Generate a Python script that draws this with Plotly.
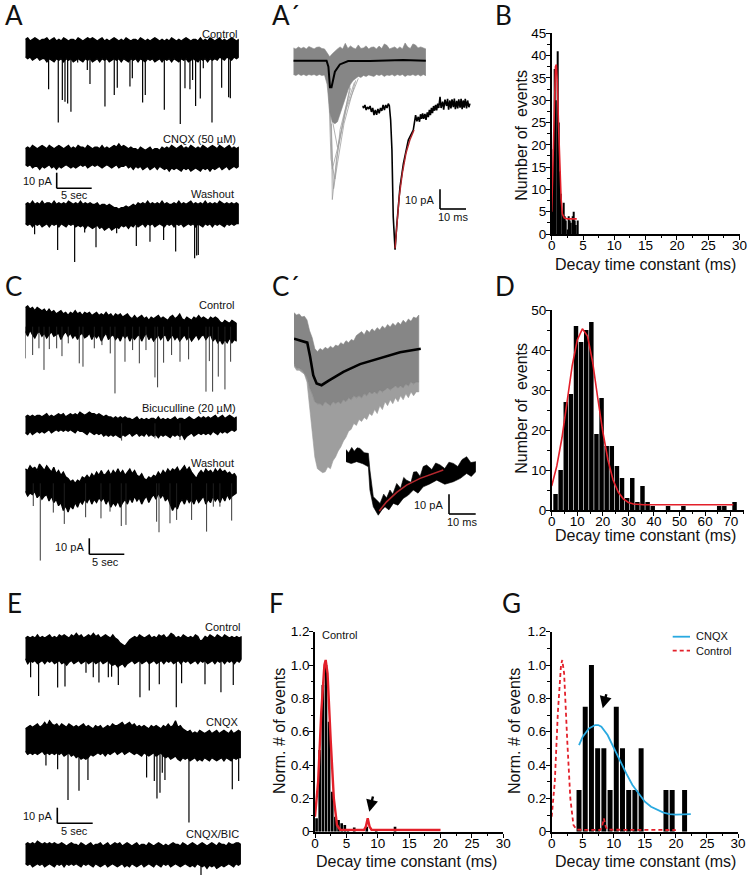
import numpy as np
import plotly.graph_objects as go

W, H = 748, 877
FONT = "Liberation Sans"
RED = "#e3202a"
FIT_RED = "#b3272d"
GRAY = "#868686"
LIGHT = "#9e9e9e"

# ---- histogram data (decay time constant in ms, counts or normalised counts)
b_bins = [0.1, 0.3, 0.5, 0.7, 0.9, 1.1, 1.3, 1.5, 1.7, 1.9, 2.1, 2.3, 2.5, 2.7, 2.9, 3.1, 3.3, 3.5, 3.7, 3.9, 4.1]
b_counts = [10, 19, 37, 30, 41, 25, 14, 9, 5, 7, 4, 3, 1, 4, 3, 2.5, 4, 5, 3, 2, 3]
b_fit_x = [0, 0.2, 0.4, 0.6, 0.75, 0.9, 1.1, 1.3, 1.5, 1.7, 2, 2.5, 4]
b_fit_y = [5, 15, 30, 37.5, 38, 34, 24, 14, 8, 4.5, 3.6, 3.4, 3.4]

d_bins = [1.5, 3.5, 5.5, 7.5, 9.5, 11.5, 13.5, 15.5, 17.5, 19.5, 21.5, 23.5, 25.5, 27.5, 29.5, 31.5, 33.5, 35.5, 37.5, 39.5, 45.5, 51.5, 65.5, 67.5, 71.5]
d_counts = [4, 10, 27, 29, 46, 42, 45, 47, 19, 28, 16, 16, 11, 8, 3, 8, 2, 6, 2, 1, 1, 1, 1, 1, 2]
d_fit_x = [0, 2, 4, 6, 8, 10, 12, 14, 16, 18, 20, 22, 24, 26, 28, 30, 32, 36, 71]
d_fit_y = [6, 11, 18, 27, 36, 42.5, 45.3, 43.5, 37, 28, 19.5, 12.5, 7.5, 4.5, 2.8, 1.9, 1.5, 1.3, 1.3]

f_bins = [0.25, 0.75, 1.25, 1.75, 2.25, 2.75, 3.25, 3.75, 4.25, 4.75, 5.25, 6.25, 8.25, 9.75, 12.75]
f_norm = [0.08, 0.49, 0.88, 1.0, 0.66, 0.24, 0.09, 0.07, 0.05, 0.04, 0.012, 0.025, 0.03, 0.012, 0.03]
control_fit_x = [0, 0.5, 1, 1.25, 1.5, 1.7, 2, 2.5, 3, 3.5, 4, 7.8, 8.1, 8.4, 8.7, 9, 20]
control_fit_y = [0.09, 0.3, 0.72, 0.9, 1.0, 1.03, 0.95, 0.55, 0.2, 0.04, 0.012, 0.01, 0.03, 0.08, 0.03, 0.012, 0.01]

g_bins = [4.4, 5.4, 6.4, 7.4, 8.4, 9.4, 10.4, 11.4, 12.4, 13.4, 14.4, 18.4, 19.4, 21.4]
g_norm = [0.25, 0.75, 1.0, 0.5, 0.5, 0.25, 0.75, 0.5, 0.25, 0.25, 0.5, 0.25, 0.25, 0.25]
cnqx_fit_x = [4.4, 5, 6, 7, 7.5, 8, 9, 10, 11, 12, 13, 14, 15, 16, 17, 18, 19, 20, 22.4]
cnqx_fit_y = [0.52, 0.57, 0.62, 0.64, 0.64, 0.63, 0.58, 0.5, 0.42, 0.35, 0.28, 0.23, 0.18, 0.15, 0.13, 0.115, 0.105, 0.103, 0.105]

norm_ticks = [0, 0.2, 0.4, 0.6, 0.8, 1.0, 1.2]
norm_labels = ["0", "0.2", "0.4", "0.6", "0.8", "1.0", "1.2"]

# ---- current traces: envelope of the noise in pA around baseline, events as time (s) / peak (pA)
a_ctrl_top = [6, 7, 5, 6, 7, 6, 5, 6, 6, 7, 5, 6, 7, 5, 6, 5, 7, 6, 5, 6, 6, 5, 7, 6, 5, 6, 7, 6, 7, 6, 5, 6, 7, 5, 6, 5, 6, 7, 6, 5, 6, 5, 7, 6, 5, 6, 6, 5, 7, 6, 5, 6, 5, 6, 7, 6, 5, 6, 5, 6, 5, 7, 6, 5, 6, 5, 6, 7, 6, 5, 6, 6, 5, 7, 5, 6, 5, 7, 6, 5, 6, 7, 5, 6, 5, 6, 7, 6, 5, 6]
a_ctrl_bot = [-5, -6, -5, -7, -6, -5, -7, -6, -6, -8, -6, -7, -8, -6, -7, -6, -8, -6, -7, -6, -8, -7, -6, -7, -8, -6, -7, -6, -8, -7, -6, -8, -6, -7, -6, -8, -7, -6, -7, -6, -8, -6, -7, -8, -6, -7, -6, -8, -6, -7, -8, -6, -7, -6, -8, -7, -6, -8, -6, -7, -6, -8, -6, -7, -8, -6, -7, -6, -8, -7, -6, -7, -8, -6, -7, -6, -8, -6, -7, -6, -7, -5, -6, -7, -5, -6, -7, -5, -6, -5]
a_ctrl_event_t = [3.33, 4.71, 5.29, 5.67, 6.05, 6.52, 7.48, 8.86, 9.24, 11.38, 12.71, 13.14, 14.95, 15.29, 16.76, 17.14, 19.86, 22.14, 22.81, 23.52, 23.9, 24.33, 25, 25.43, 26.67, 28.05, 29.05, 29.29]
a_ctrl_event_amp = [-25.2, -46, -31.9, -32.9, -34, -39.2, -8.5, -13.1, -21.9, -36, -28.8, -24.2, -23.5, -18.3, -33.5, -28.8, -38, -46.9, -24.6, -25.2, -19.4, -35.6, -31, -12, -46, -24.2, -30.2, -30.8]

a_cnqx_top = [5, 6, 5, 7, 6, 5, 6, 7, 6, 5, 7, 6, 5, 6, 7, 6, 5, 6, 7, 5, 6, 5, 7, 6, 6, 5, 7, 6, 5, 6, 6, 5, 7, 5, 6, 5, 6, 7, 6, 8, 6, 7, 6, 5, 6, 5, 5, 4, 6, 5, 4, 5, 6, 4, 5, 5, 4, 6, 5, 6, 5, 7, 6, 5, 6, 7, 5, 6, 5, 7, 6, 5, 6, 5, 7, 6, 5, 6, 7, 6, 5, 7, 6, 5, 6, 7, 5, 6, 5, 6]
a_cnqx_bot = [-5, -6, -5, -7, -6, -6, -8, -6, -7, -6, -5, -7, -6, -8, -6, -7, -6, -5, -6, -7, -6, -7, -6, -5, -6, -5, -7, -6, -5, -6, -5, -6, -7, -6, -5, -6, -7, -6, -5, -7, -6, -6, -5, -7, -6, -8, -6, -7, -6, -8, -7, -6, -8, -7, -6, -8, -6, -7, -8, -7, -9, -7, -8, -7, -8, -9, -7, -8, -7, -9, -8, -7, -8, -9, -7, -8, -7, -9, -7, -8, -7, -6, -8, -7, -6, -8, -7, -6, -7, -6]

a_wash_top = [6, 7, 6, 8, 6, 7, 6, 8, 6, 7, 7, 6, 8, 6, 7, 6, 7, 6, 8, 7, 6, 7, 6, 8, 6, 7, 6, 7, 6, 6, 7, 5, 6, 6, 5, 6, 5, 4, 4, 3, 4, 4, 5, 4, 5, 6, 5, 7, 6, 7, 6, 8, 6, 7, 6, 7, 6, 8, 6, 7, 6, 6, 7, 6, 8, 6, 7, 6, 7, 8, 6, 7, 6, 7, 6, 8, 6, 7, 6, 7, 6, 8, 7, 6, 7, 6, 7, 6, 7, 6]
a_wash_bot = [-6, -7, -6, -8, -6, -7, -6, -8, -7, -6, -8, -6, -7, -6, -8, -6, -7, -8, -6, -7, -6, -8, -7, -8, -7, -9, -7, -8, -9, -8, -7, -9, -8, -10, -9, -8, -10, -9, -8, -9, -7, -8, -7, -9, -7, -8, -6, -8, -7, -6, -8, -6, -7, -6, -8, -7, -6, -7, -8, -6, -7, -6, -8, -6, -7, -6, -8, -7, -6, -7, -6, -8, -6, -7, -8, -6, -7, -6, -8, -6, -7, -6, -7, -8, -6, -7, -6, -7, -6, -6]
a_wash_event_t = [1.33, 4.62, 7.05, 8.48, 10.1, 13.05, 15.86, 17.81, 19.76, 21.48, 24.19, 24.48, 24.71]
a_wash_event_amp = [-12.7, -22.5, -30, -11.5, -20.8, -12, -20, -17.3, -16.2, -23.5, -27.7, -26, -25.6]

c_ctrl_top = [12, 13, 11, 12, 10, 12, 11, 10, 11, 9, 11, 9, 10, 8, 9, 10, 8, 9, 7, 9, 8, 10, 8, 9, 7, 9, 8, 9, 7, 8, 9, 7, 8, 7, 9, 7, 8, 6, 8, 7, 8, 6, 7, 8, 6, 5, 7, 5, 6, 7, 5, 6, 4, 6, 5, 6, 7, 5, 6, 5, 4, 6, 7, 5, 6, 8, 5, 4, 6, 5, 4, 6, 5, 7, 5, 6, 5, 4, 6, 5, 6, 5, 3, 2, 4, 3, 2, 4, 3, 2]
c_ctrl_bot = [-3, -6, -2, -5, -7, -4, -3, -6, -4, -7, -5, -3, -6, -5, -4, -8, -5, -3, -6, -4, -7, -5, -8, -5, -4, -7, -6, -4, -8, -5, -7, -5, -9, -6, -4, -8, -6, -5, -8, -6, -9, -5, -7, -5, -9, -6, -8, -6, -5, -9, -6, -4, -8, -6, -9, -7, -5, -8, -6, -5, -9, -7, -5, -8, -6, -9, -7, -5, -8, -6, -9, -7, -5, -8, -6, -5, -8, -6, -5, -9, -7, -10, -8, -11, -8, -10, -7, -10, -8, -9]
c_ctrl_event_t = [0, 1.05, 1.95, 2.67, 3.43, 4.48, 5.24, 6.14, 7.71, 8.24, 9.86, 10.95, 12.14, 12.81, 14.24, 15.33, 16.29, 17.24, 18.52, 18.9, 19.76, 20.9, 22.1, 23.33, 25.81, 26.29, 26.76, 27.57, 28.52, 29.33]
c_ctrl_event_amp = [-19.8, -17.7, -13.5, -27, -14, -13.5, -18.4, -10.4, -22.9, -25, -13.5, -11.5, -16.7, -41.7, -21.9, -14.6, -22.9, -14.6, -31.7, -37.9, -22.5, -17.7, -21.9, -20.4, -40.6, -21.5, -40.6, -31.2, -39.2, -21.9]

c_bic_top = [4, 5, 4, 5, 4, 5, 5, 4, 5, 6, 4, 5, 4, 5, 6, 5, 6, 4, 5, 6, 5, 6, 5, 7, 6, 5, 6, 7, 6, 6, 5, 6, 5, 4, 5, 4, 4, 3, 4, 3, 4, 3, 4, 3, 3, 2, 3, 4, 2, 3, 2, 3, 2, 3, 3, 2, 4, 2, 3, 2, 3, 2, 3, 4, 2, 3, 3, 2, 3, 4, 3, 2, 3, 4, 3, 4, 3, 4, 3, 4, 5, 3, 4, 5, 3, 4, 5, 4, 3, 4]
c_bic_bot = [-6, -7, -5, -7, -6, -5, -6, -5, -6, -5, -4, -6, -5, -4, -5, -4, -5, -4, -5, -4, -5, -6, -4, -5, -5, -6, -7, -5, -6, -7, -6, -7, -6, -8, -7, -8, -7, -8, -7, -8, -9, -7, -8, -7, -6, -8, -7, -6, -8, -7, -8, -6, -8, -7, -8, -7, -9, -7, -8, -7, -8, -9, -7, -8, -7, -8, -7, -10, -8, -7, -6, -8, -7, -6, -7, -6, -7, -6, -7, -5, -6, -7, -5, -6, -5, -6, -5, -4, -5, -4]
c_bic_event_t = [13.76, 18.52, 22.1]
c_bic_event_amp = [-10.8, -9.4, -10.4]

c_wash_top = [9, 8, 11, 9, 10, 8, 12, 10, 8, 11, 9, 7, 10, 6, 8, 5, 7, 4, 3, 1, 2, 0, 2, 1, 4, 3, 5, 3, 6, 4, 7, 5, 8, 5, 6, 8, 5, 8, 6, 9, 6, 8, 5, 7, 9, 6, 8, 5, 4, 6, 3, 2, 4, 3, 5, 4, 7, 5, 8, 6, 9, 7, 9, 8, 10, 7, 9, 11, 8, 10, 7, 5, 3, 6, 8, 6, 9, 7, 8, 6, 9, 7, 9, 7, 8, 6, 7, 5, 6, 4]
c_wash_bot = [-5, -8, -6, -7, -5, -9, -7, -10, -8, -7, -11, -8, -12, -10, -14, -12, -17, -14, -18, -14, -16, -12, -15, -11, -13, -10, -12, -9, -13, -10, -12, -9, -11, -9, -13, -10, -15, -12, -14, -11, -15, -12, -10, -13, -9, -12, -8, -11, -9, -13, -10, -8, -12, -9, -7, -10, -6, -9, -7, -11, -9, -13, -17, -14, -16, -12, -10, -13, -9, -12, -10, -13, -9, -12, -10, -8, -13, -10, -12, -8, -11, -9, -12, -8, -11, -7, -10, -8, -7, -6]
c_wash_event_t = [1.14, 2.14, 4, 5.57, 8.62, 10.81, 12.1, 13.71, 14.38, 18.76, 19.1, 20.67, 21.62, 23.76, 25.9, 26.86, 27.8, 29.48]
c_wash_event_amp = [-14.2, -48.3, -18.3, -25.4, -21.2, -21.9, -17.7, -26.7, -26, -24, -30.6, -25, -22.9, -22.9, -30.2, -14.6, -14.6, -23.3]

e_ctrl_top = [7, 8, 7, 8, 7, 9, 7, 8, 7, 8, 9, 7, 8, 7, 9, 8, 9, 8, 7, 9, 8, 10, 8, 9, 7, 8, 9, 8, 10, 8, 9, 7, 8, 9, 8, 7, 9, 7, 6, 4, 3, 2, 4, 6, 7, 8, 7, 9, 8, 7, 8, 9, 7, 8, 7, 9, 8, 9, 7, 8, 10, 9, 7, 8, 7, 9, 8, 7, 8, 7, 9, 8, 5, 6, 8, 7, 9, 8, 7, 9, 8, 7, 9, 8, 7, 8, 7, 8, 7, 8]
e_ctrl_bot = [-6, -9, -7, -8, -7, -9, -8, -7, -9, -7, -8, -7, -9, -8, -7, -9, -8, -10, -8, -7, -9, -8, -7, -9, -8, -7, -9, -8, -7, -9, -8, -7, -9, -8, -7, -9, -10, -9, -11, -10, -9, -11, -9, -8, -7, -9, -8, -7, -9, -8, -7, -9, -8, -7, -9, -8, -7, -9, -7, -8, -7, -9, -8, -7, -9, -7, -8, -7, -9, -8, -7, -9, -7, -8, -7, -9, -8, -7, -9, -7, -8, -7, -9, -7, -8, -7, -9, -7, -8, -6]
e_ctrl_event_t = [0.76, 1.9, 4.62, 5.67, 8.67, 9.71, 10.52, 11.86, 12.33, 13.29, 16.38, 17.71, 19.14, 21.57, 22.33, 25.67, 27.95, 29.71]
e_ctrl_event_amp = [-17.5, -29.2, -23.8, -23.3, -14.6, -17.5, -20.8, -17.5, -17.1, -22.3, -30, -25.8, -21.9, -36.2, -21.2, -21.9, -26.9, -22.3]

e_cnqx_top = [7, 8, 9, 8, 9, 10, 8, 9, 11, 9, 12, 10, 9, 10, 8, 10, 9, 8, 10, 9, 8, 9, 8, 9, 10, 8, 9, 8, 7, 9, 8, 9, 7, 8, 9, 8, 10, 9, 9, 10, 11, 9, 10, 11, 9, 10, 8, 9, 8, 9, 8, 7, 9, 8, 9, 8, 7, 9, 8, 10, 8, 9, 12, 8, 9, 7, 6, 5, 6, 4, 5, 4, 6, 5, 4, 5, 6, 4, 5, 6, 4, 5, 6, 5, 4, 6, 4, 5, 6, 5]
e_cnqx_bot = [-7, -9, -8, -9, -8, -9, -8, -7, -9, -8, -9, -8, -9, -8, -9, -8, -10, -9, -8, -10, -9, -11, -10, -12, -11, -12, -11, -9, -10, -9, -8, -9, -8, -10, -8, -9, -8, -7, -9, -8, -7, -9, -8, -7, -8, -9, -8, -9, -10, -8, -9, -10, -9, -8, -10, -9, -8, -10, -11, -10, -12, -11, -10, -12, -13, -11, -12, -11, -13, -12, -11, -13, -12, -13, -11, -12, -13, -11, -12, -13, -12, -11, -13, -11, -12, -13, -11, -12, -11, -11]
e_cnqx_event_t = [2.95, 4.62, 6.1, 7.67, 8.95, 17.33, 18.43, 18.81, 19.24, 19.57, 19.95, 23.38, 29.57, 30.48]
e_cnqx_event_amp = [-16, -18.3, -37.5, -31.7, -25, -23.5, -25.6, -36.5, -33, -20.4, -25, -51.5, -30.8, -25.6]

e_bic_top = [6, 7, 6, 7, 6, 8, 7, 6, 7, 6, 7, 6, 7, 6, 6, 7, 6, 5, 6, 7, 6, 6, 5, 7, 6, 5, 6, 7, 5, 6, 6, 7, 5, 6, 7, 5, 6, 7, 6, 7, 5, 6, 7, 6, 5, 6, 7, 5, 6, 6, 5, 7, 6, 5, 6, 7, 6, 5, 6, 5, 6, 7, 6, 6, 5, 7, 6, 5, 6, 7, 6, 5, 6, 7, 6, 5, 6, 7, 6, 5, 7, 6, 6, 5, 7, 6, 6, 7, 7, 6]
e_bic_bot = [-6, -7, -6, -8, -7, -6, -7, -6, -8, -7, -6, -7, -8, -6, -7, -6, -8, -6, -7, -6, -7, -6, -7, -8, -6, -7, -6, -7, -8, -6, -7, -8, -7, -6, -8, -7, -6, -7, -8, -7, -6, -8, -7, -8, -6, -7, -8, -7, -6, -8, -7, -6, -7, -8, -6, -7, -8, -6, -7, -6, -8, -7, -6, -7, -8, -7, -6, -7, -8, -7, -8, -6, -7, -8, -7, -9, -7, -8, -7, -9, -8, -7, -8, -7, -6, -7, -8, -6, -7, -6]
e_bic_event_t = [25.1]
e_bic_event_amp = [-13.1]

# ---- averaged events, time in ms and current in pA
a_gray_top = [6.5, 6, 7, 6.2, 6.8, 6, 7.2, 6.5, 6, 6.8, 7, 6.2, 6, 4, 2, 3.5, 5, 6, 7, 6, 8.8, 6.2, 7.5, 6.5, 6, 8, 6.2, 6.5, 7.5, 6, 6.8, 7, 6, 7.4, 6.2, 8.5, 7.8, 6, 6.5, 7, 6, 7, 6, 9, 7, 6.2, 8.5, 8, 6.5, 7, 6.5, 6]
a_gray_bot = [-7, -7.5, -6.8, -7.5, -7, -7.6, -7, -7.4, -7, -7.6, -7, -7.5, -7.2, -12, -26, -31, -32, -31, -27, -23, -19, -15, -12, -10, -9, -8, -8.5, -7.5, -8, -7.2, -7.6, -8, -7, -7.5, -7, -8, -7.2, -7.5, -7, -7.8, -7, -7.5, -7, -8, -7.2, -7.5, -7, -7.6, -7, -7.8, -7, -7.6]
a_sweep1_t = [14.7, 15, 16.7, 21.8]
a_sweep1_amp = [-32, -70.5, -48.8, -13]
a_sweep2_t = [13.5, 14.5, 16, 18, 22]
a_sweep2_amp = [-10, -50, -60, -35, -14]
a_sweep3_t = [14, 15, 17.5, 20, 23.5]
a_sweep3_amp = [-20, -55, -42, -25, -11]
a_sweep4_t = [14, 15.5, 17, 19.5, 24]
a_sweep4_amp = [-15, -65, -52, -32, -10]
a_sweep5_t = [15, 17, 20.5, 25]
a_sweep5_amp = [-30, -44, -24, -9]
a_mean_t = [0, 12.8, 13.5, 14.1, 14.7, 16, 17.9, 21.1, 29.5, 42.3, 51]
a_mean_amp = [0, 0, -3, -13.5, -13.5, -5.6, -1.9, -0.2, -0.2, 0.3, 0]
a_single_t = [0, 0.5, 1, 1.5, 2, 2.5, 3, 3.5, 4, 4.5, 5, 5.5, 6, 6.5, 7, 7.5, 8, 8.5, 9, 9.5, 10, 10.4, 10.9, 11.4, 11.9, 12.6, 13.2, 14.5, 15.8, 17.7, 19.6, 20, 20.5, 21, 21.5, 22, 22.4, 22.8, 23.2, 23.6, 24.1, 24.5, 25, 25.4, 25.8, 26.2, 26.6, 27, 27.4, 27.8, 28.2, 28.6, 29, 29.4, 29.9, 30.3, 30.9, 31.3, 31.8, 32.4, 32.8, 33.2, 33.7, 34.1, 34.5, 35, 35.4, 35.8, 36.3, 36.7, 37.1, 37.6, 38, 38.4, 38.8, 39.2, 39.6, 40.1, 40.5, 41, 41.4]
a_single_amp = [0, -1, 0.5, -2, -0.5, -1.5, 0, -3, -1, -4.6, -2, -4.5, -1.5, -3.7, -1, -2.5, 0.5, -2, 0.5, -1, 1.2, 0.2, -7.1, -22.4, -56.3, -72.9, -61.4, -41, -29.2, -17.3, -12.2, -8, -4.6, -7.8, -5.5, -8, -4.2, -6.5, -3.8, -6.5, -4, -7, -3.2, -5.6, -2, -4.6, -1, -3.6, 0, -2.4, 0.5, -2.2, 1.2, -1, 4.7, -1, 2.2, -1.8, 3.2, 0, 3.6, -1.8, 2.8, -1.2, 3.4, -0.6, 3.8, -1.6, 2.6, -1.2, 3.4, -0.8, 3.6, -1.6, 2.8, -0.8, 3.6, -1.2, 2.8, -0.6, 1.2]
a_single_fit_t = [12.6, 13.2, 14.2, 15.4, 16.8, 18.3, 19.9]
a_single_fit_amp = [-72.3, -61.4, -46.1, -34.2, -24, -17.3, -12.2]

c_gray_top = [13.2, 12, 12.6, 11, 11.4, 9.5, 4, 0.5, -5, -6.6, -5, -5.8, -4.4, -5.2, -3.8, -4.8, -3.2, -3.8, -2, -3, -1, -2, -0.4, -1, 1.6, 2.4, 3.6, 2, 4.4, 3.2, 5, 3.8, 5.6, 4.4, 6.4, 5.2, 7.2, 6, 7.8, 6.6, 8.4, 7.2, 9.4, 8, 10, 8.8, 11, 10.4, 12]
c_gray_core = [-13, -15, -15, -16, -17.6, -20, -25, -28, -32, -33, -33, -34, -32, -33, -34, -32, -33, -32, -33, -31, -32, -30, -31, -29, -30, -29, -30, -28, -29, -27, -28, -27, -28, -26, -27, -26, -25, -26, -25, -24, -25, -24, -25, -23, -24, -22, -23, -22, -22]
c_gray_low = [-14, -16, -16, -17, -18, -22, -35, -50, -60, -66, -67, -68, -67.6, -65, -66, -62, -60, -57, -55, -52, -50, -47, -46, -43, -44, -41, -42, -40, -41, -38, -39, -36, -38, -34, -36, -32, -34, -31, -33, -30, -32, -29, -31, -28, -30, -27, -29, -27, -27]
c_mean_t = [0, 5.1, 6.2, 7.4, 8.7, 10.6, 13.2, 19, 25.4, 33.1, 40.8, 48.8]
c_mean_amp = [0, -2, -9.2, -18.5, -22.7, -23.6, -21.4, -16.8, -12.9, -9.7, -6.9, -5.1]
c_single_top_t = [0, 1, 2.2, 3.2, 4.3, 5.4, 7, 8.6, 9.2, 10.5, 11.8, 13.1, 14.5, 15.6, 16.9, 18, 19.5, 21, 22.2, 23.3, 25, 26, 27.2, 28.5, 29.7, 31, 33, 34.5, 36.2, 38, 39.6, 41.3, 43, 44.6, 46.4, 48, 49.9]
c_single_top_amp = [3.7, 2, 4.7, 2.8, 4.5, 4.2, 2, 1.7, -6.8, -20.3, -22, -23.7, -19, -21, -16.9, -19, -13.6, -16, -10.5, -11.9, -13, -7.8, -7.6, -10, -5, -4.2, -6.5, -3.2, -4.2, -6, -2.8, -3.4, -5, -1.5, 0, -3, -2.5]
c_single_bot_t = [0, 2, 4.1, 6.5, 8.6, 9.2, 10.5, 12.4, 13.8, 15, 16.5, 18.2, 20, 22, 24, 25.9, 27.7, 29.7, 32, 34.9, 38, 41.3, 44, 46.4, 48.2, 49.9]
c_single_bot_amp = [-2.5, -3.5, -2.5, -3.6, -5.1, -16.9, -25.4, -29.7, -27, -25.4, -27, -23.7, -24.6, -21.2, -19.5, -16.9, -18.5, -15.3, -14, -11.9, -14, -12.7, -11, -8.5, -10, -7.6]
c_single_fit_t = [12.8, 15.6, 19.5, 23.3, 28.5, 33.6, 37.4]
c_single_fit_amp = [-27.5, -22.9, -18.1, -14.4, -11, -8.5, -6.8]

fig = go.Figure()
layout_axes = {}
axis_count = 0


def hidden_axes(x0, base, dur, px_per_x, px_per_y, above=30, below=90):
    # one invisible pair of axes, baseline at pixel row "base", time starts at pixel x0
    global axis_count
    axis_count += 1
    n = axis_count
    top = max(0, base - above)
    bottom = min(H, base + below)
    layout_axes[f"xaxis{n}"] = dict(domain=[x0 / W, (x0 + dur * px_per_x) / W], range=[0, dur],
                                    visible=False, anchor=f"y{n}")
    layout_axes[f"yaxis{n}"] = dict(domain=[1 - bottom / H, 1 - top / H],
                                    range=[(base - bottom) / px_per_y, (base - top) / px_per_y],
                                    visible=False, anchor=f"x{n}")
    return f"x{n}", f"y{n}"


def add_band(xa, ya, xt, top, xb, bot, color, width=0.6):
    xs = list(xt) + list(xb)[::-1]
    ys = list(top) + list(bot)[::-1]
    fig.add_trace(go.Scatter(x=xs, y=ys, mode="lines", fill="toself", fillcolor=color,
                             line=dict(color=color, width=width), xaxis=xa, yaxis=ya,
                             hoverinfo="skip", showlegend=False))


def add_line(xa, ya, x, y, color="black", width=1.0, dash=None):
    fig.add_trace(go.Scatter(x=x, y=y, mode="lines", line=dict(color=color, width=width, dash=dash),
                             xaxis=xa, yaxis=ya, hoverinfo="skip", showlegend=False))


def add_recording(x0, base, dur, top, bot, event_t=(), event_amp=(), width=1.2, color="black"):
    xa, ya = hidden_axes(x0, base, dur, 7.0, 1.6)
    add_band(xa, ya, np.linspace(0, dur, len(top)), top, np.linspace(0, dur, len(bot)), bot, "black", width=1.3)
    ex, ey = [], []
    for t, amp in zip(event_t, event_amp):
        ex += [t, t, None]
        ey += [0, amp, None]
    if ex:
        add_line(xa, ya, ex, ey, color=color, width=width)


add_recording(25.3, 49, 30.5, a_ctrl_top, a_ctrl_bot, a_ctrl_event_t, a_ctrl_event_amp)
add_recording(25.3, 156.7, 30.5, a_cnqx_top, a_cnqx_bot)
add_recording(25.3, 214, 30.5, a_wash_top, a_wash_bot, a_wash_event_t, a_wash_event_amp)
add_recording(25.3, 326.7, 30.2, c_ctrl_top, c_ctrl_bot, c_ctrl_event_t, c_ctrl_event_amp, 0.9, "#222222")
add_recording(25.3, 423.3, 30.2, c_bic_top, c_bic_bot, c_bic_event_t, c_bic_event_amp, 0.9, "#222222")
add_recording(25.3, 483.3, 30.2, c_wash_top, c_wash_bot, c_wash_event_t, c_wash_event_amp, 0.9, "#222222")
add_recording(25.3, 649.3, 30.9, e_ctrl_top, e_ctrl_bot, e_ctrl_event_t, e_ctrl_event_amp)
add_recording(25.3, 740, 30.8, e_cnqx_top, e_cnqx_bot, e_cnqx_event_t, e_cnqx_event_amp)
add_recording(25.3, 854, 30.8, e_bic_top, e_bic_bot, e_bic_event_t, e_bic_event_amp)

# A' overlay of events and average
xa, ya = hidden_axes(293.3, 60.7, 51, 2.6, 1.97, above=40, below=150)
for t, amp in [(a_sweep1_t, a_sweep1_amp), (a_sweep2_t, a_sweep2_amp), (a_sweep3_t, a_sweep3_amp),
               (a_sweep4_t, a_sweep4_amp), (a_sweep5_t, a_sweep5_amp)]:
    add_line(xa, ya, t, amp, color=LIGHT, width=0.8)
add_band(xa, ya, np.arange(len(a_gray_top)), a_gray_top, np.arange(len(a_gray_bot)), a_gray_bot, GRAY)
add_line(xa, ya, a_mean_t, a_mean_amp, width=2)

xa, ya = hidden_axes(362.3, 106, 42, 2.6, 1.97, above=40, below=150)
add_line(xa, ya, a_single_t, a_single_amp, width=1.6)
add_line(xa, ya, a_single_fit_t, a_single_fit_amp, color=FIT_RED, width=1.4)

# C' overlay of events and average
xa, ya = hidden_axes(294, 338.7, 48.8, 2.6, 1.97, above=40, below=170)
add_band(xa, ya, np.arange(len(c_gray_low)), c_gray_low, np.arange(len(c_gray_core)), c_gray_core, LIGHT)
add_band(xa, ya, np.arange(len(c_gray_top)), c_gray_top, np.arange(len(c_gray_core)), c_gray_core, GRAY)
add_line(xa, ya, c_mean_t, c_mean_amp, width=2.6)

xa, ya = hidden_axes(346, 456.7, 50, 2.6, 1.97, above=40, below=80)
add_band(xa, ya, c_single_top_t, c_single_top_amp, c_single_bot_t, c_single_bot_amp, "black")
add_line(xa, ya, c_single_fit_t, c_single_fit_amp, color=FIT_RED, width=1.6)


def hist_axes(x0, x1, y0, y1, xmax, ymax, xdtick, xminor, ydtick, yminor, ytickvals=None, yticktext=None):
    global axis_count
    axis_count += 1
    n = axis_count
    tick_font = dict(family=FONT, size=13.5, color="black")
    layout_axes[f"xaxis{n}"] = dict(
        domain=[x0 / W, x1 / W], range=[0, xmax], anchor=f"y{n}", showgrid=False, zeroline=False, automargin=False,
        showline=True, linecolor="black", linewidth=1.6, ticks="outside", ticklen=4, tickwidth=1.3,
        tickcolor="black", dtick=xdtick, tick0=0, tickfont=tick_font, ticklabelstandoff=-6,
        minor=dict(dtick=xminor, ticks="outside", ticklen=2.5, tickwidth=1, tickcolor="black"))
    yaxis = dict(
        domain=[1 - y1 / H, 1 - y0 / H], range=[0, ymax], anchor=f"x{n}", showgrid=False, zeroline=False, automargin=False,
        showline=True, linecolor="black", linewidth=1.6, ticks="outside", ticklen=4, tickwidth=1.3,
        tickcolor="black", dtick=ydtick, tick0=0, tickfont=tick_font, ticklabelstandoff=-3,
        minor=dict(dtick=yminor, ticks="outside", ticklen=2.5, tickwidth=1, tickcolor="black"))
    if ytickvals:
        yaxis.update(tickmode="array", tickvals=ytickvals, ticktext=yticktext)
    layout_axes[f"yaxis{n}"] = yaxis
    return f"x{n}", f"y{n}"


def add_bars(xa, ya, x, y, width):
    fig.add_trace(go.Bar(x=x, y=y, width=width, marker=dict(color="black", line=dict(width=0)),
                         xaxis=xa, yaxis=ya, hoverinfo="skip", showlegend=False))


xa, ya = hist_axes(551.7, 739.5, 33.3, 234, 30, 45, 5, 2.5, 5, 2.5)
add_bars(xa, ya, b_bins, b_counts, 0.2)
add_line(xa, ya, b_fit_x, b_fit_y, color=RED, width=1.6)

xa, ya = hist_axes(551.7, 743.5, 310, 510, 75, 50, 10, 5, 10, 5)
add_bars(xa, ya, d_bins, d_counts, 1.75)
add_line(xa, ya, d_fit_x, d_fit_y, color=RED, width=1.6)

xa, ya = hist_axes(315, 503.3, 631.7, 831.7, 30, 1.2, 5, 2.5, 0.2, 0.1, norm_ticks, norm_labels)
add_bars(xa, ya, f_bins, f_norm, 0.42)
add_line(xa, ya, control_fit_x, control_fit_y, color=RED, width=2.4)

xa, ya = hist_axes(551.7, 738, 631.7, 831.7, 30, 1.2, 5, 2.5, 0.2, 0.1, norm_ticks, norm_labels)
add_bars(xa, ya, g_bins, g_norm, 0.8)
add_line(xa, ya, cnqx_fit_x, cnqx_fit_y, color="#29a9e0", width=1.8)
add_line(xa, ya, control_fit_x, control_fit_y, color=RED, width=1.8, dash="4px,3px")

annotations = []
shapes = []


def label(x, y, text, size=11, anchor="right", family=FONT, angle=0):
    annotations.append(dict(x=x / W, y=1 - y / H, xref="paper", yref="paper", text=text, showarrow=False,
                            xanchor=anchor, yanchor="middle", textangle=angle,
                            font=dict(family=family, size=size, color="#111111")))


def scale_bar(x, y_top, y_bottom, x_right):
    shapes.append(dict(type="line", xref="paper", yref="paper", x0=x / W, x1=x / W, y0=1 - y_top / H,
                       y1=1 - y_bottom / H, line=dict(color="black", width=1.6)))
    shapes.append(dict(type="line", xref="paper", yref="paper", x0=x / W, x1=x_right / W, y0=1 - y_bottom / H,
                       y1=1 - y_bottom / H, line=dict(color="black", width=1.6)))


def arrow(x_tip, y_tip, x_tail, y_tail):
    annotations.append(dict(x=x_tip / W, y=1 - y_tip / H, xref="paper", yref="paper", ax=x_tail - x_tip,
                            ay=y_tail - y_tip, axref="pixel", ayref="pixel", text="", showarrow=True,
                            arrowhead=2, arrowsize=1, arrowwidth=2.4, arrowcolor="black"))


# panel letters
for x, y, letter in [(3, 15, "A"), (270, 15, "A\u00b4"), (493, 15, "B"), (3, 286, "C"), (270, 286, "C\u00b4"),
                     (493, 286, "D"), (5, 603, "E"), (267, 603, "F"), (500, 603, "G")]:
    label(x, y, letter, size=26, anchor="left", family="Lato")

# axis titles
for x, y in [(645, 264), (645, 535.7), (407, 861.7), (645.7, 861.7)]:
    label(x, y, "Decay time constant (ms)", size=16, anchor="center")
for x, y in [(520.7, 135), (520.7, 408)]:
    label(x, y, "Number of\u00a0 events", size=16, anchor="center", angle=-90)
for x, y in [(279, 731), (514, 731)]:
    label(x, y, "Norm. # of events", size=16, anchor="center", angle=-90)

# trace names
label(239, 33.5, "Control")
label(238, 139, "CNQX (50 \u00b5M)")
label(236, 194, "Washout")
label(236, 305, "Control")
label(237.5, 408, "Bicuculline (20 \u00b5M)")
label(236, 462.7, "Washout")
label(242, 627, "Control")
label(240, 722, "CNQX")
label(241, 833.7, "CNQX/BIC")
label(320, 635, "Control", anchor="left")

# scale bars
scale_bar(56.7, 172.7, 188.3, 91.7)
label(54, 181, "10 pA")
label(74, 195, "5 sec", anchor="center")
scale_bar(440, 189.3, 209, 466)
label(436, 199.5, "10 pA")
label(453, 217, "10 ms", anchor="center")
scale_bar(89.3, 538.3, 554.3, 124.3)
label(86, 547, "10 pA")
label(105, 562, "5 sec", anchor="center")
scale_bar(449, 494.3, 514, 475.7)
label(445, 505, "10 pA")
label(462, 522, "10 ms", anchor="center")
scale_bar(57.3, 807.7, 823.3, 92.7)
label(54, 816, "10 pA")
label(74, 831, "5 sec", anchor="center")

# arrows on F and G
arrow(369.3, 811.7, 373.3, 795)
arrow(602.7, 708.3, 606.7, 692.7)

# G legend
shapes.append(dict(type="line", xref="paper", yref="paper", x0=672.7 / W, x1=690 / W, y0=1 - 636.7 / H,
                   y1=1 - 636.7 / H, line=dict(color="#29a9e0", width=1.8)))
shapes.append(dict(type="line", xref="paper", yref="paper", x0=672.7 / W, x1=690 / W, y0=1 - 650.7 / H,
                   y1=1 - 650.7 / H, line=dict(color=RED, width=1.8, dash="4px,3px")))
label(694, 636.3, "CNQX", anchor="left")
label(694, 650.7, "Control", anchor="left")

fig.update_layout(width=W, height=H, margin=dict(l=0, r=0, t=0, b=0), paper_bgcolor="white", plot_bgcolor="rgba(0,0,0,0)",
                  showlegend=False, annotations=annotations, shapes=shapes, barmode="overlay", **layout_axes)

# the page's default 8px body margin would push the whole figure off its place
fig.write_html("out.html", config={"displayModeBar": False}, post_script="document.body.style.margin = '0';")
